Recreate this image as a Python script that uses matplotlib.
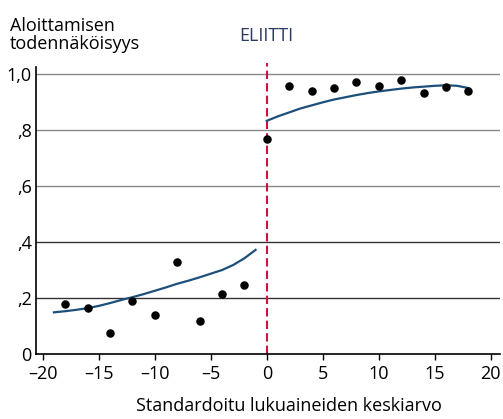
import matplotlib
matplotlib.use("Agg")
import matplotlib.pyplot as plt

# data
x_low = [-18, -16, -14, -12, -10, -8, -6, -4, -2]
y_low = [0.178, 0.163, 0.074, 0.188, 0.140, 0.329, 0.119, 0.214, 0.246]
x_high = [0, 2, 4, 6, 8, 10, 12, 14, 16, 18]
y_high = [0.768, 0.958, 0.938, 0.951, 0.972, 0.959, 0.977, 0.931, 0.952, 0.939]

fit_low_x = [-19, -18, -17, -16, -15, -14, -13, -12, -11, -10, -9, -8, -7, -6,
             -5, -4, -3, -2, -1]
fit_low_y = [0.149, 0.153, 0.158, 0.164, 0.172, 0.182, 0.193, 0.203, 0.214,
             0.226, 0.238, 0.251, 0.262, 0.274, 0.287, 0.300, 0.318, 0.342, 0.372]
fit_high_x = [0, 1, 2, 3, 4, 5, 6, 7, 8, 9, 10, 11, 12, 13, 14, 15, 16, 17, 18]
fit_high_y = [0.833, 0.849, 0.863, 0.877, 0.888, 0.899, 0.909, 0.917, 0.925,
              0.932, 0.938, 0.943, 0.948, 0.952, 0.955, 0.958, 0.960, 0.958, 0.950]

xticks = [-20, -15, -10, -5, 0, 5, 10, 15, 20]
xtick_labels = ["\u201320", "\u201315", "\u201310", "\u20135", "0", "5", "10", "15", "20"]
yticks = [0, 0.2, 0.4, 0.6, 0.8, 1.0]
ytick_labels = ["0", ",2", ",4", ",6", ",8", "1,0"]

plt.rcParams['font.family'] = ['Open Sans', 'DejaVu Sans']
FS = 13

fig = plt.figure(figsize=(5.03, 4.19), dpi=100)
ax = fig.add_axes([0.0716, 0.155, 0.922, 0.695])
ax.set_xlim(-20.6, 20.8)
ax.set_ylim(0, 1.04)

grid_colors = ["#333333", "#333333", "#888888", "#888888", "#888888"]
for yv, c in zip(yticks[1:], grid_colors):
    ax.axhline(yv, color=c, lw=1.0, zorder=1)

ax.axvline(0, color="#c8163f", lw=1.5, ls=(0, (4, 2)), zorder=2)

ax.plot(fit_low_x, fit_low_y, color="#1d4f7c", lw=1.6, zorder=3)
ax.plot(fit_high_x, fit_high_y, color="#1d4f7c", lw=1.6, zorder=3)
ax.scatter(x_low, y_low, s=26, color="black", zorder=4)
ax.scatter(x_high, y_high, s=26, color="black", zorder=4)

for s in ["top", "right"]:
    ax.spines[s].set_visible(False)
ax.spines["left"].set_bounds(0, 1.025)
ax.spines["left"].set_linewidth(1.2)
ax.spines["bottom"].set_linewidth(1.2)

ax.set_xticks(xticks)
ax.set_xticklabels(xtick_labels, fontsize=FS)
ax.set_yticks(yticks)
ax.set_yticklabels(ytick_labels, fontsize=FS)
ax.tick_params(axis="x", length=4, width=1, pad=4)
ax.tick_params(axis="y", length=0, pad=3)

fig.text(0.02, 0.96, "Aloittamisen\ntodennäköisyys", ha="left", va="top",
         fontsize=FS, linespacing=1.05)
ax.text(0, 1.105, "ELIITTI", ha="center", va="bottom", fontsize=FS,
        color="#2b3b66", transform=ax.transData)
fig.text(0.5736, 0.02, "Standardoitu lukuaineiden keskiarvo", ha="center",
         va="baseline", fontsize=FS)

fig.savefig("out.png", dpi=100)
